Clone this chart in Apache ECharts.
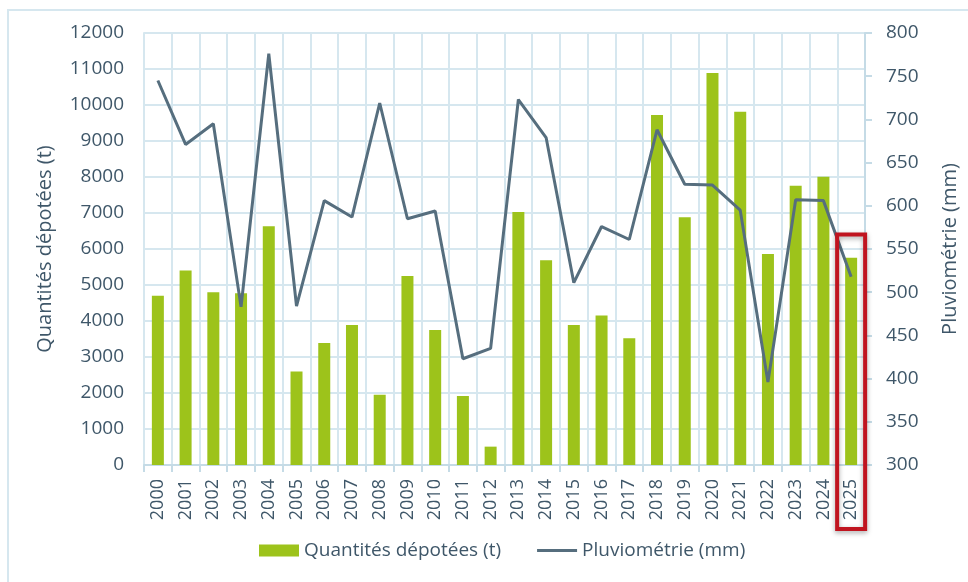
<!DOCTYPE html>
<html>
<head>
<meta charset="utf-8">
<script src="https://cdn.jsdelivr.net/npm/echarts@6/dist/echarts.min.js"></script>
<style>
  html, body { margin: 0; padding: 0; background: #fff; }
  #main { width: 968px; height: 582px; }
</style>
</head>
<body>
<div id="main"></div>
<script>
const years = ['2000', '2001', '2002', '2003', '2004', '2005', '2006', '2007', '2008', '2009',
  '2010', '2011', '2012', '2013', '2014', '2015', '2016', '2017', '2018', '2019',
  '2020', '2021', '2022', '2023', '2024', '2025']
const quantites = [4700, 5400, 4800, 4770, 6630, 2600, 3390, 3890, 1950, 5250,
  3750, 1920, 510, 7030, 5690, 3890, 4150, 3520, 9720, 6880,
  10890, 9810, 5860, 7760, 8010, 5760]
const pluvio = [745, 671, 695, 483, 776, 484, 606, 587, 719, 585,
  594, 423, 435, 723, 679, 511, 576, 561, 688, 625,
  624, 595, 396, 607, 606, 518]

const gridColor = '#d6e7ef'
const textColor = '#3f5769'
const font = '"Open Sans", sans-serif'
// trait fin centré dans une boîte 40x12 (icône de légende de la courbe)
const lineIcon = 'path://M0,0h40v0.01h-40zM0,4.5h40v3h-40zM0,11.99h40v0.01h-40z'

const myChart = echarts.init(document.getElementById('main'))

const option = {
  animation: false,
  textStyle: { fontFamily: font },
  grid: { left: 144, right: 103, top: 33, bottom: 117 },
  legend: {
    bottom: 17,
    left: 254,
    itemGap: 36,
    itemWidth: 40,
    itemHeight: 12,
    textStyle: { fontSize: 19, color: textColor, fontFamily: font },
    data: [
      { name: 'Quantités dépotées (t)', icon: 'rect' },
      { name: 'Pluviométrie (mm)', icon: lineIcon }
    ]
  },
  xAxis: {
    type: 'category',
    data: years,
    axisLine: { lineStyle: { color: '#c5dbe6', width: 2 } },
    axisTick: { show: true, length: 7, lineStyle: { color: '#c5dbe6', width: 2 } },
    splitLine: { show: true, lineStyle: { color: gridColor, width: 2 } },
    axisLabel: { rotate: 90, fontSize: 18, color: textColor, margin: 14, interval: 0 }
  },
  yAxis: [
    {
      type: 'value',
      min: 0,
      max: 12000,
      interval: 1000,
      name: 'Quantités dépotées (t)',
      nameLocation: 'middle',
      nameGap: 89,
      nameTextStyle: { fontSize: 20, color: textColor },
      axisLine: { show: true, lineStyle: { color: gridColor, width: 2 } },
      axisTick: { show: false },
      splitLine: { lineStyle: { color: gridColor, width: 2 } },
      axisLabel: { fontSize: 19, color: textColor, margin: 20, formatter: v => String(v) }
    },
    {
      type: 'value',
      min: 300,
      max: 800,
      interval: 50,
      name: 'Pluviométrie (mm)',
      nameLocation: 'middle',
      nameGap: 75,
      nameTextStyle: { fontSize: 20, color: textColor },
      axisLine: { show: true, lineStyle: { color: '#c5dbe6', width: 2 } },
      axisTick: { show: true, length: 7, lineStyle: { color: '#c5dbe6', width: 2 } },
      splitLine: { show: false },
      axisLabel: { fontSize: 19, color: textColor, margin: 21 }
    }
  ],
  series: [
    {
      name: 'Quantités dépotées (t)',
      type: 'bar',
      barWidth: 12,
      itemStyle: { color: '#9dc31b' },
      data: quantites
    },
    {
      name: 'Pluviométrie (mm)',
      type: 'line',
      yAxisIndex: 1,
      symbol: 'none',
      lineStyle: { color: '#566e7e', width: 3 },
      itemStyle: { color: '#566e7e' },
      data: pluvio
    }
  ]
}
myChart.setOption(option)

// cadre + encadré rouge sur la dernière année
const last = years[years.length - 1]
const cx = myChart.convertToPixel({ xAxisIndex: 0 }, last)
const yTop = myChart.convertToPixel({ yAxisIndex: 0 }, 6400)
myChart.setOption({
  graphic: [
    {
      type: 'rect',
      shape: { x: 8, y: 10, width: 980, height: 600 },
      style: { fill: 'none', stroke: gridColor, lineWidth: 2 },
      z: -1
    },
    {
      type: 'rect',
      shape: { x: cx - 14, y: yTop, width: 28, height: 529 - yTop },
      style: {
        fill: 'none', stroke: '#c0141f', lineWidth: 4,
        shadowBlur: 5, shadowColor: 'rgba(0,0,0,0.35)', shadowOffsetY: 2
      },
      z: 100
    }
  ]
})
</script>
</body>
</html>
